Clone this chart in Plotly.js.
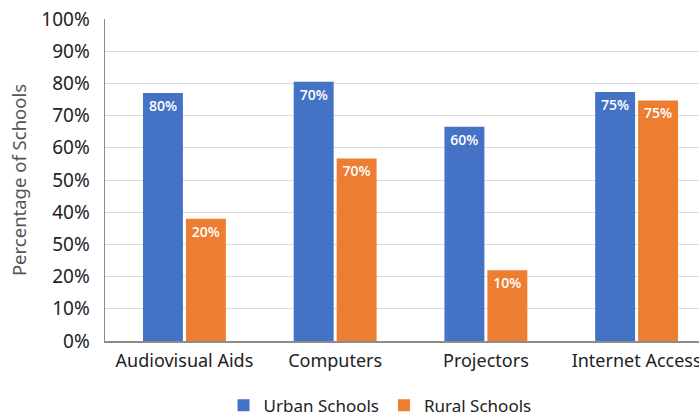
<!DOCTYPE html>
<html>
<head>
<meta charset="utf-8">
<script src="https://cdn.plot.ly/plotly-3.0.1.min.js"></script>
<style>html,body{margin:0;padding:0;background:#fff;}#chart{width:699px;height:420px;}</style>
</head>
<body>
<div id="chart"></div>
<script>
const categories = ["Audiovisual Aids", "Computers", "Projectors", "Internet Access"];
const urbanValues = [77, 80.5, 66.5, 77.3];
const ruralValues = [38, 56.7, 22, 74.7];
const urbanLabels = ["80%", "70%", "60%", "75%"];
const ruralLabels = ["20%", "70%", "10%", "75%"];
const tickVals = [0, 10, 20, 30, 40, 50, 60, 70, 80, 90, 100];
const tickText = ["0%", "10%", "20%", "50%", "40%", "50%", "60%", "70%", "80%", "90%", "100%"];

const labelFont = {family: "Open Sans, Noto Sans, sans-serif", size: 14, color: "#ffffff", weight: 600};

const traces = [
  {
    type: "bar", name: "Urban Schools", x: categories, y: urbanValues,
    text: urbanLabels, textposition: "inside", insidetextanchor: "end",
    textfont: labelFont, marker: {color: "#4472C4"}, hoverinfo: "none"
  },
  {
    type: "bar", name: "Rural Schools", x: categories, y: ruralValues,
    text: ruralLabels, textposition: "inside", insidetextanchor: "end",
    textfont: labelFont, marker: {color: "#ED7D31"}, hoverinfo: "none"
  }
];

const layout = {
  width: 699, height: 420,
  margin: {l: 105, r: 0, t: 19, b: 79, autoexpand: false},
  paper_bgcolor: "#ffffff", plot_bgcolor: "#ffffff",
  barmode: "group", bargap: 0.43, bargroupgap: 0.07,
  font: {family: "Noto Sans, sans-serif", color: "#333333"},
  xaxis: {
    range: [-0.527, 3.414], showgrid: false, zeroline: false,
    showline: true, linecolor: "#8c8c8c", linewidth: 1.5,
    ticks: "", ticklabelstandoff: 3, automargin: false,
    tickfont: {size: 18, color: "#222222"}, fixedrange: true
  },
  yaxis: {
    range: [0, 100], tickvals: tickVals, ticktext: tickText,
    showgrid: true, gridcolor: "#dcdcdc", gridwidth: 1,
    zeroline: false, showline: true, linecolor: "#8c8c8c", linewidth: 1.5,
    ticks: "", ticklabelstandoff: 10, automargin: false,
    tickfont: {size: 19, color: "#222222"},
    title: {text: "Percentage of Schools", font: {size: 18.5, color: "#555555"}, standoff: 10},
    fixedrange: true
  },
  showlegend: true,
  legend: {
    orientation: "h", x: 0.463, xanchor: "center", y: -0.145, yanchor: "top",
    font: {size: 17, color: "#222222"}, itemwidth: 30, traceorder: "normal"
  }
};

Plotly.newPlot("chart", traces, layout, {staticPlot: true, displayModeBar: false});
</script>
</body>
</html>
